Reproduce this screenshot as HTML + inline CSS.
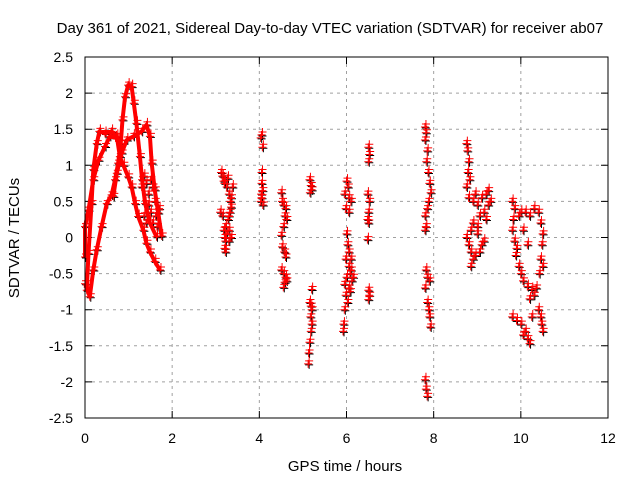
<!DOCTYPE html>
<html><head><meta charset="utf-8"><style>
body{margin:0;background:#fff}
svg{display:block;font-family:"Liberation Sans",sans-serif}
</style></head><body>
<svg id="chart" width="640" height="480" viewBox="0 0 640 480">
<rect width="640" height="480" fill="#fff"/>
<text x="330" y="33" font-size="15" text-anchor="middle">Day 361 of 2021, Sidereal Day-to-day VTEC variation (SDTVAR) for receiver ab07</text>
<g id="grid"></g>
<g id="axes"></g>
<g id="marks"></g>
<rect x="85" y="57" width="523" height="361" fill="none" stroke="#000" stroke-width="1"/>
<text x="345" y="471" font-size="15" text-anchor="middle">GPS time / hours</text>
<text transform="translate(19,238) rotate(-90)" font-size="15" text-anchor="middle">SDTVAR / TECUs</text>
</svg>
<script>
const xTicks=[0,2,4,6,8,10,12];
const yTicks=[-2.5,-2,-1.5,-1,-0.5,0,0.5,1,1.5,2,2.5];
const yTickLabels=["-2.5","-2","-1.5","-1","-0.5","0","0.5","1","1.5","2","2.5"];
const traceA=[[0.04,-0.73],[0.08,-0.22],[0.15,0.47],[0.19,0.94],[0.27,1.3],[0.33,1.47],[0.46,1.44],[0.61,1.47],[0.73,1.4],[0.8,1.12],[0.88,1.0],[0.99,0.84],[1.07,0.7],[1.15,0.47],[1.22,0.29],[1.34,0.1],[1.41,-0.08],[1.49,-0.2],[1.6,-0.33],[1.72,-0.45]];
const traceB=[[0.0,-0.64],[0.11,-0.82],[0.19,-0.45],[0.27,-0.17],[0.38,0.15],[0.5,0.47],[0.61,0.59],[0.69,0.8],[0.76,1.03],[0.82,1.3],[0.86,1.63],[0.92,1.95],[0.99,2.11],[1.07,2.09],[1.12,1.86],[1.18,1.58],[1.26,1.12],[1.31,0.8],[1.38,0.47],[1.49,0.2],[1.64,0.01]];
const traceC=[[0.0,-0.27],[0.0,0.15],[0.08,0.38],[0.19,0.8],[0.31,1.07],[0.46,1.26],[0.57,1.4],[0.7,1.38]];
const traceD=[[0.65,0.57],[0.73,0.89],[0.84,1.17],[0.96,1.35],[1.11,1.4],[1.3,1.47],[1.41,1.56],[1.49,1.4],[1.53,1.03],[1.6,0.66],[1.68,0.34],[1.76,0.02]];
const blob1=[[1.3,0.7],[1.35,0.85],[1.4,0.75],[1.45,0.6],[1.5,0.8],[1.55,0.7],[1.6,0.5],[1.35,0.3],[1.4,0.2],[1.5,0.35],[1.55,0.2],[1.62,0.3],[1.65,0.15],[1.7,0.4],[1.45,0.45]];
const cluster3=[[3.12,0.9],[3.15,0.85],[3.18,0.78],[3.2,0.75],[3.25,0.7],[3.3,0.6],[3.33,0.5],[3.35,0.42],[3.32,0.35],[3.3,0.3],[3.28,0.25],[3.22,0.15],[3.1,0.35],[3.15,0.3],[3.18,0.1],[3.2,0.0],[3.22,-0.05],[3.25,0.05],[3.3,-0.05],[3.35,0.0],[3.2,-0.15],[3.22,-0.2],[3.3,0.1],[3.27,0.82],[3.35,0.55],[3.38,0.7]];
const cluster4=[[4.05,1.42],[4.03,1.38],[4.07,1.25],[4.05,0.9],[4.05,0.75],[4.07,0.65],[4.05,0.55],[4.03,0.5],[4.08,0.45],[4.04,0.6]];
const cluster45=[[4.5,0.62],[4.52,0.5],[4.55,0.45],[4.6,0.4],[4.58,0.3],[4.62,0.25],[4.55,0.15],[4.5,0.03],[4.52,-0.13],[4.57,-0.2],[4.6,-0.27],[4.5,-0.45],[4.55,-0.5],[4.6,-0.55],[4.62,-0.6],[4.55,-0.69],[4.58,-0.62]];
const cluster5=[[5.15,0.8],[5.18,0.72],[5.2,0.66],[5.16,0.62],[5.2,-0.72],[5.15,-0.9],[5.18,-0.95],[5.2,-1.0],[5.17,-1.1],[5.2,-1.2],[5.18,-1.3],[5.15,-1.45],[5.13,-1.6],[5.12,-1.75]];
const cluster6=[[6.0,0.78],[6.03,0.7],[5.95,0.6],[6.05,0.55],[6.1,0.5],[5.98,0.4],[6.05,0.35],[6.0,0.05],[6.02,-0.1],[6.05,-0.2],[5.98,-0.3],[6.1,-0.3],[6.05,-0.4],[6.08,-0.5],[6.0,-0.55],[6.12,-0.6],[5.95,-0.65],[6.05,-0.7],[6.1,-0.45],[5.98,-0.8],[6.02,-0.9],[5.95,-1.0],[5.93,-1.2],[5.92,-1.3],[6.15,-0.55],[6.08,-0.75]];
const cluster65=[[6.5,1.25],[6.52,1.15],[6.5,1.05],[6.48,0.6],[6.52,0.5],[6.5,0.35],[6.48,0.25],[6.5,0.2],[6.48,-0.03],[6.5,-0.73],[6.52,-0.8],[6.5,-0.86]];
const cluster8=[[7.8,1.53],[7.82,1.45],[7.8,1.35],[7.85,1.2],[7.83,1.05],[7.87,0.9],[7.9,0.75],[7.93,0.62],[7.88,0.5],[7.85,0.4],[7.8,0.3],[7.82,0.15],[7.8,0.1],[7.82,-0.45],[7.85,-0.55],[7.9,-0.6],[7.8,-0.7],[7.85,-0.9],[7.88,-1.0],[7.9,-1.1],[7.92,-1.24],[7.8,-1.97],[7.82,-2.1],[7.85,-2.2]];
const cluster9=[[8.75,1.3],[8.77,1.2],[8.8,1.05],[8.78,0.9],[8.82,0.8],[8.75,0.7],[8.8,0.55],[8.9,0.5],[8.95,0.6],[9.0,0.45],[9.1,0.55],[9.2,0.6],[9.25,0.45],[9.15,0.35],[9.05,0.3],[8.9,0.2],[9.0,0.15],[9.2,0.25],[8.85,0.1],[8.75,0.0],[8.8,-0.1],[8.85,-0.2],[8.9,-0.3],[8.95,-0.25],[9.05,-0.2],[9.1,-0.1],[9.15,-0.05],[8.85,-0.4],[9.0,0.05],[9.25,0.65],[9.3,0.5]];
const cluster10=[[9.8,0.5],[9.85,0.4],[9.82,0.25],[9.8,0.1],[9.85,-0.05],[9.9,-0.15],[9.88,-0.25],[9.95,0.3],[10.0,0.35],[10.1,0.35],[10.2,0.3],[10.3,0.4],[10.4,0.35],[10.45,0.2],[10.5,0.05],[10.48,-0.1],[10.45,-0.3],[10.5,-0.4],[9.95,-0.4],[10.0,-0.5],[10.05,-0.6],[10.15,-0.68],[10.25,-0.72],[10.3,-0.8],[10.35,-0.7],[10.2,-0.85],[10.15,-0.1],[10.05,0.1],[9.8,-1.1],[9.9,-1.15],[10.0,-1.2],[10.1,-1.3],[10.15,-1.4],[10.2,-1.47],[10.05,-1.35],[10.25,-1.1],[10.4,-1.0],[10.45,-1.1],[10.47,-1.2],[10.5,-1.3],[10.42,-0.5]];

const X0=85,X1=608,Y0=418,Y1=57;
const xs=t=>X0+(t-0)/12*(X1-X0);
const ys=v=>Y0-(v+2.5)/5*(Y0-Y1);
const NS="http://www.w3.org/2000/svg";
const grid=document.getElementById('grid'),axes=document.getElementById('axes'),marks=document.getElementById('marks');
function mk(tag,attrs,parent){const e=document.createElementNS(NS,tag);for(const k in attrs)e.setAttribute(k,attrs[k]);parent.appendChild(e);return e;}
xTicks.forEach(t=>{
  const x=xs(t);
  if(t>0&&t<12){const g=mk('line',{x1:x,y1:Y1,x2:x,y2:Y0,stroke:'#a0a0a0','stroke-dasharray':'3,4'},grid);
  
  }
  const tk=mk('path',{d:`M${x},${Y0}v-7M${x},${Y1}v7`,stroke:'#000'},axes);
  
  
  const lb=mk('text',{x:x,y:443,'font-size':14,'text-anchor':'middle'},axes);lb.textContent=t;
  
  
});
yTicks.forEach((v,i)=>{
  const y=ys(v);
  if(i>0&&i<yTicks.length-1){const g=mk('line',{x1:X0,y1:y,x2:X1,y2:y,stroke:'#a0a0a0','stroke-dasharray':'3,4'},grid);
  
  }
  const tk=mk('path',{d:`M${X0},${y}h7M${X1},${y}h-7`,stroke:'#000'},axes);
  
  
  const lb=mk('text',{x:73,y:y+5,'font-size':14,'text-anchor':'end'},axes);lb.textContent=yTickLabels[i];
  
  
});
function band(pts){
  const pl=mk('polyline',{points:pts.map(p=>xs(p[0])+','+ys(p[1])).join(' '),fill:'none',stroke:'#f00','stroke-width':4,'stroke-linejoin':'round'},marks);
  
  
}
function plus(pts,color,dx,dy){
  pts.forEach(p=>{
    const x=xs(p[0])+dx,y=ys(p[1])+dy;
    const m=mk('path',{d:`M${x-4},${y}h8M${x},${y-4}v8`,stroke:color,'stroke-width':1},marks);
    
    
  });
}
const all=[traceA,traceB,traceC,traceD,blob1,cluster3,cluster4,cluster45,cluster5,cluster6,cluster65,cluster8,cluster9,cluster10];
all.forEach(s=>plus(s,'#000',1,1));
[traceA,traceB,traceC,traceD].forEach(band);
all.forEach(s=>{plus(s,'#f00',0,0);plus(s,'#f00',1,-3);});
</script>
</body></html>
